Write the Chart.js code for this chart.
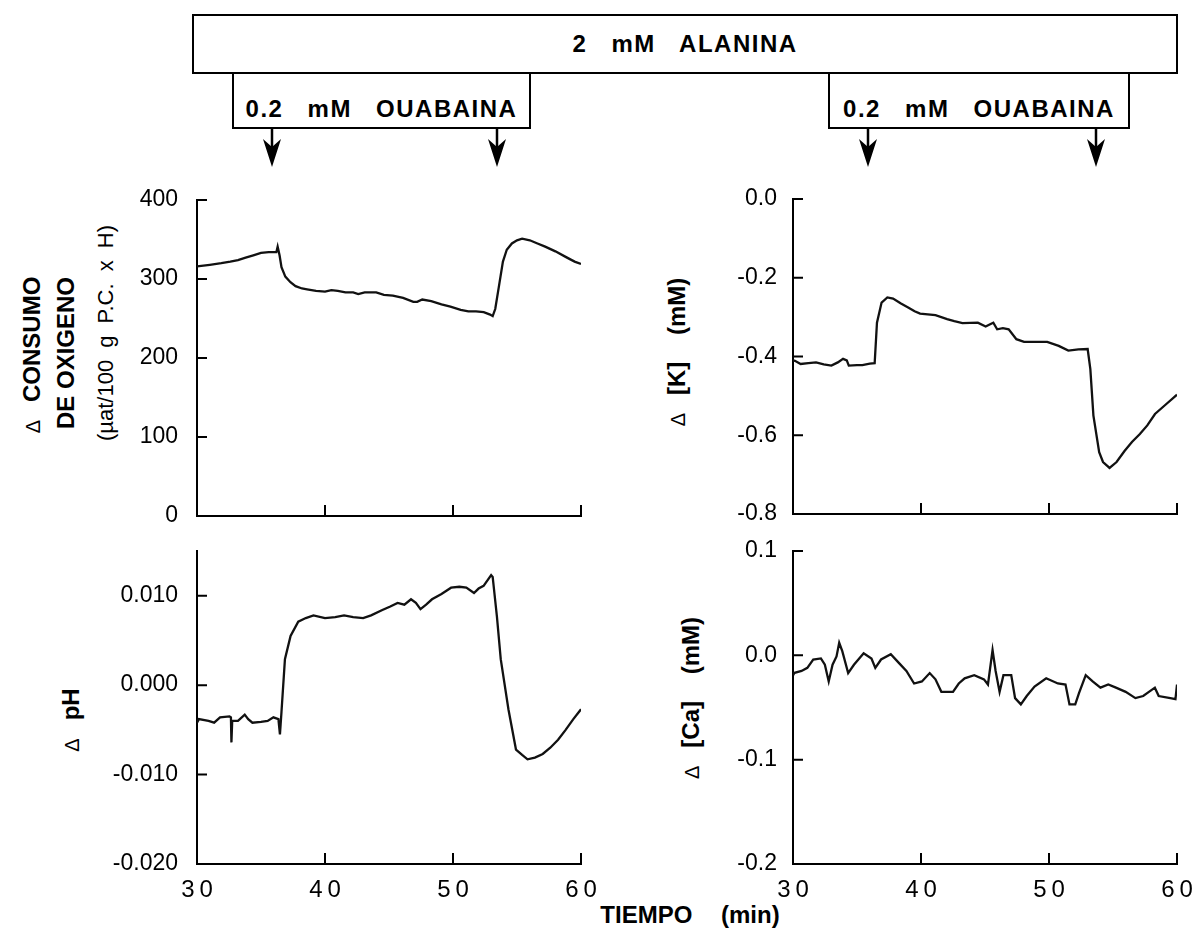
<!DOCTYPE html>
<html>
<head>
<meta charset="utf-8">
<script src="https://cdn.jsdelivr.net/npm/chart.js@4.4.0/dist/chart.umd.min.js"></script>
<style>
  body { margin: 0; background: #fff; width: 1204px; height: 935px; position: relative; overflow: hidden;
         font-family: "Liberation Sans", Arial, sans-serif; color: #000; }
  .panel { position: absolute; }
  .panel canvas { display: block; }
  .box { position: absolute; border: 2px solid #000; box-sizing: border-box; display: flex;
         align-items: center; justify-content: center; font-weight: bold; font-size: 24px;
         letter-spacing: 1.5px; word-spacing: 16px; white-space: pre; }
  .lbl { position: absolute; white-space: pre; font-weight: bold; font-size: 24px;
         transform: translate(-50%, -50%) rotate(-90deg); }
  .lbl.thin { font-weight: normal; font-size: 22px; word-spacing: 6px; }
  .wide { word-spacing: 20px; }
  .d { font-weight: normal; font-size: 20px; margin-right: 18px; }
  #timeTitle { position: absolute; left: 690px; top: 915px; transform: translate(-50%, -50%);
               font-weight: bold; font-size: 24px; word-spacing: 22px; white-space: pre; }
</style>
</head>
<body>

<div class="box" style="left:192px; top:14px; width:986px; height:60px;">2 mM ALANINA</div>
<div class="box" style="left:232px; top:72px; width:299px; height:57px; align-items:flex-end; padding-bottom:4px;">0.2 mM OUABAINA</div>
<div class="box" style="left:828px; top:72px; width:302px; height:57px; align-items:flex-end; padding-bottom:4px;">0.2 mM OUABAINA</div>
<svg id="arrows" width="1204" height="180" style="position:absolute; left:0; top:0;"></svg>

<div class="lbl" style="left:32px; top:355px;"><span class="d">Δ</span>CONSUMO</div>
<div class="lbl" style="left:66px; top:353px;">DE OXIGENO</div>
<div class="lbl thin" style="left:106px; top:333px;">(µat/100 g P.C. x H)</div>
<div class="lbl" style="left:71px; top:720px;"><span class="d">Δ</span>pH</div>
<div class="lbl wide" style="left:677px; top:352px;"><span class="d">Δ</span>[K] (mM)</div>
<div class="lbl wide" style="left:691px; top:698px;"><span class="d">Δ</span>[Ca] (mM)</div>
<div id="timeTitle">TIEMPO (min)</div>

<div class="panel" id="o2Panel"><canvas id="o2Chart"></canvas></div>
<div class="panel" id="phPanel"><canvas id="phChart"></canvas></div>
<div class="panel" id="kPanel"><canvas id="kChart"></canvas></div>
<div class="panel" id="caPanel"><canvas id="caChart"></canvas></div>

<script>
// tick labels
const timeTicks = [30, 40, 50, 60];
const o2Ticks = [0, 100, 200, 300, 400];
const phTicks = [-0.02, -0.01, 0, 0.01];
const kTicks = [-0.8, -0.6, -0.4, -0.2, 0];
const caTicks = [-0.2, -0.1, 0, 0.1];

// oxygen consumption trace (min, µat/100 g P.C. x H)
const o2Time = [30.0, 31.0, 31.9, 32.6, 33.2, 33.8, 34.4, 35.0, 35.6, 36.2,
  36.3, 36.45, 36.6, 36.9, 37.3, 37.7, 38.2, 38.6, 39.3, 40.0,
  40.5, 41.0, 41.6, 42.2, 42.6, 43.1, 44.0, 44.6, 45.3, 46.1,
  46.9, 47.2, 47.6, 48.3, 49.1, 49.8, 50.6, 51.2, 51.8, 52.4,
  52.9, 53.1, 53.3, 53.6, 53.9, 54.2, 54.6, 55.0, 55.4, 56.0,
  56.6, 57.2, 58.0, 58.8, 59.5, 60.0];
const o2Values = [316, 318, 320, 322, 324, 327, 330, 333, 334, 334,
  341, 330, 315, 303, 296, 291, 288, 287, 285, 284,
  286, 285, 283, 283, 281, 283, 283, 280, 279, 276,
  271, 271, 274, 272, 268, 265, 261, 259, 259, 258,
  255, 253, 262, 292, 322, 337, 345, 349, 351, 349,
  345, 341, 335, 328, 322, 319];

// pH trace
const phTime = [30.0, 30.15, 30.9, 31.34, 31.8, 32.54, 32.65, 32.69, 32.75, 33.2,
  33.73, 34.0, 34.33, 35.0, 35.52, 35.97, 36.36, 36.48, 36.6, 36.87,
  37.31, 37.91, 38.5, 39.1, 40.0, 40.8, 41.49, 42.2, 42.98, 43.6,
  44.48, 45.1, 45.67, 46.2, 46.72, 47.1, 47.46, 47.9, 48.36, 49.1,
  49.85, 50.5, 51.04, 51.64, 52.0, 52.39, 52.98, 53.1, 53.43, 53.73,
  54.33, 54.92, 55.4, 55.82, 56.4, 57.01, 57.6, 58.21, 58.8, 59.4,
  60.0];
const phValues = [-0.0042, -0.0038, -0.0040, -0.0042, -0.0036, -0.0035, -0.0036, -0.0064, -0.0040, -0.0040,
  -0.0033, -0.0038, -0.0042, -0.0041, -0.0040, -0.0036, -0.0038, -0.0055, -0.0030, 0.0029,
  0.0055, 0.0071, 0.0075, 0.0078, 0.0075, 0.0076, 0.0078, 0.0076, 0.0075, 0.0078,
  0.0084, 0.0088, 0.0092, 0.0090, 0.0096, 0.0092, 0.0085, 0.0090, 0.0096, 0.0102,
  0.0109, 0.0110, 0.0109, 0.0103, 0.0108, 0.0111, 0.0123, 0.0121, 0.0077, 0.0029,
  -0.0027, -0.0072, -0.0078, -0.0083, -0.0081, -0.0077, -0.0070, -0.0061, -0.0050, -0.0038,
  -0.0027];

// [K] trace (mM)
const kTime = [30.0, 30.15, 30.6, 31.2, 31.8, 32.4, 33.0, 33.5, 33.91, 34.2,
  34.36, 35.0, 35.42, 36.0, 36.38, 36.56, 36.92, 37.37, 37.82, 38.4,
  39.03, 39.5, 39.93, 41.13, 42.04, 42.6, 43.24, 44.44, 45.05, 45.4,
  45.65, 45.95, 46.4, 46.85, 47.45, 48.05, 49.86, 50.76, 51.51, 52.3,
  53.02, 53.23, 53.47, 53.92, 54.22, 54.73, 55.28, 55.9, 56.48, 57.1,
  57.68, 58.28, 59.19, 60.0];
const kValues = [-0.410, -0.411, -0.419, -0.417, -0.415, -0.420, -0.423, -0.415, -0.406, -0.410,
  -0.423, -0.422, -0.422, -0.418, -0.417, -0.314, -0.263, -0.250, -0.253, -0.265,
  -0.276, -0.285, -0.291, -0.295, -0.305, -0.310, -0.315, -0.314, -0.324, -0.318,
  -0.314, -0.331, -0.328, -0.331, -0.356, -0.363, -0.363, -0.373, -0.385, -0.382,
  -0.381, -0.432, -0.550, -0.643, -0.668, -0.683, -0.668, -0.640, -0.617, -0.597,
  -0.575, -0.546, -0.520, -0.497];

// [Ca] trace (mM)
const caTime = [30.0, 30.06, 30.67, 31.12, 31.58, 32.18, 32.49, 32.79, 33.09, 33.4,
  33.61, 33.85, 34.31, 34.76, 35.52, 36.13, 36.43, 36.88, 37.64, 38.25,
  38.86, 39.46, 40.07, 40.68, 41.13, 41.59, 42.5, 42.95, 43.41, 44.16,
  44.92, 45.23, 45.59, 45.83, 46.14, 46.44, 47.05, 47.35, 47.8, 48.26,
  48.87, 49.78, 50.69, 51.29, 51.6, 52.05, 52.35, 52.87, 53.41, 54.02,
  54.63, 55.23, 55.99, 56.75, 57.36, 58.27, 58.57, 59.48, 59.88, 60.0];
const caValues = [-0.018, -0.017, -0.015, -0.012, -0.004, -0.003, -0.009, -0.025, -0.009, -0.001,
  0.012, 0.004, -0.017, -0.009, 0.002, -0.003, -0.012, -0.004, 0.001, -0.007,
  -0.015, -0.027, -0.025, -0.017, -0.023, -0.035, -0.035, -0.027, -0.022, -0.019,
  -0.023, -0.028, 0.005, -0.015, -0.035, -0.019, -0.019, -0.041, -0.047, -0.039,
  -0.030, -0.022, -0.027, -0.028, -0.047, -0.047, -0.036, -0.019, -0.025, -0.031,
  -0.028, -0.031, -0.035, -0.041, -0.039, -0.031, -0.039, -0.041, -0.042, -0.028];

// ouabain addition arrows (page x)
const arrowX = [272, 497, 868, 1096];
const svg = document.getElementById('arrows');
arrowX.forEach(x => {
    svg.innerHTML += `<line x1="${x}" y1="128" x2="${x}" y2="150" stroke="#000" stroke-width="2.5"/>` +
        `<polygon points="${x},167 ${x - 9},139 ${x},147 ${x + 9},139" fill="#000"/>`;
});

const FONT = '"Liberation Sans", Arial, sans-serif';
const MARGIN = 40;   // room round each plot so the tick labels never squeeze it

// ticks point inward, like the original plotter output
const inwardTicks = {
    id: 'inwardTicks',
    afterDraw(chart) {
        const { ctx, chartArea: a, scales: { x, y } } = chart;
        ctx.save();
        ctx.strokeStyle = '#000';
        ctx.lineWidth = 2;
        ctx.beginPath();
        x.ticks.forEach(t => {
            if (t.value === x.min) return;
            const px = x.getPixelForValue(t.value);
            ctx.moveTo(px, a.bottom);
            ctx.lineTo(px, a.bottom - 11);
        });
        y.ticks.forEach(t => {
            if (t.value === y.min) return;
            const py = y.getPixelForValue(t.value);
            ctx.moveTo(a.left, py);
            ctx.lineTo(a.left + 10, py);
        });
        ctx.stroke();
        ctx.restore();
    }
};

function panelConfig(p, yWidth, pad) {
    return {
        type: 'line',
        data: {
            datasets: [{
                data: p.times.map((t, i) => ({ x: t, y: p.values[i] })),
                borderColor: '#111',
                borderWidth: 2.3,
                pointRadius: 0,
                tension: 0,
                fill: false
            }]
        },
        options: {
            responsive: false,
            animation: false,
            devicePixelRatio: 1,
            layout: { autoPadding: false, padding: pad },
            plugins: { legend: { display: false }, tooltip: { enabled: false } },
            scales: {
                x: {
                    type: 'linear',
                    min: 30,
                    max: 60,
                    afterBuildTicks: s => { s.ticks = timeTicks.map(v => ({ value: v })); },
                    grid: { display: false, drawTicks: false },
                    border: { display: true, color: '#000', width: 2 },
                    ticks: {
                        display: p.showTime,
                        padding: 12,
                        color: '#000',
                        autoSkip: false,
                        maxRotation: 0,
                        font: { family: FONT, size: 24 },
                        callback: v => String(v).split('').join('\u2009')
                    }
                },
                y: {
                    min: p.yTicks[0],
                    max: p.yMax,
                    afterBuildTicks: s => { s.ticks = p.yTicks.map(v => ({ value: v })); },
                    afterFit: s => { s.width = yWidth; },
                    grid: { display: false, drawTicks: false },
                    border: { display: true, color: '#000', width: 2 },
                    ticks: {
                        padding: p.yPad,
                        color: '#000',
                        autoSkip: false,
                        font: { family: FONT, size: 23 },
                        callback: v => Number(v).toFixed(p.digits)
                    }
                }
            }
        },
        plugins: [inwardTicks]
    };
}

// p.plot is the frame of the plot on the page: left, top, right, bottom
function createPanel(panelId, canvasId, p) {
    const yWidth = 110;
    const bottomRoom = p.showTime ? 70 : MARGIN;
    const panel = document.getElementById(panelId);
    const canvas = document.getElementById(canvasId);
    panel.style.left = (p.plot.left - yWidth) + 'px';
    panel.style.top = (p.plot.top - MARGIN) + 'px';
    canvas.width = yWidth + (p.plot.right - p.plot.left) + MARGIN;
    canvas.height = MARGIN + (p.plot.bottom - p.plot.top) + bottomRoom;
    const target = { left: yWidth, top: MARGIN,
                     right: canvas.width - MARGIN, bottom: canvas.height - bottomRoom };
    let pad = { top: MARGIN, left: 0, right: MARGIN, bottom: bottomRoom };
    let chart;
    // build, measure the plot area, rebuild with the leftover offset taken out of the padding
    for (let i = 0; i < 3; i++) {
        if (chart) chart.destroy();
        chart = new Chart(canvas, panelConfig(p, yWidth, pad));
        const a = chart.chartArea;
        pad = {
            top: pad.top + (target.top - a.top),
            left: pad.left + (target.left - a.left),
            right: pad.right + (a.right - target.right),
            bottom: pad.bottom + (a.bottom - target.bottom)
        };
    }
    return chart;
}

createPanel('o2Panel', 'o2Chart', { times: o2Time, values: o2Values, yTicks: o2Ticks, yMax: 400, digits: 0,
    showTime: false, yPad: 19, plot: { left: 197, top: 200, right: 581, bottom: 516 } });
createPanel('phPanel', 'phChart', { times: phTime, values: phValues, yTicks: phTicks, yMax: 0.015, digits: 3,
    showTime: true, yPad: 19, plot: { left: 197, top: 551, right: 581, bottom: 864 } });
createPanel('kPanel', 'kChart', { times: kTime, values: kValues, yTicks: kTicks, yMax: 0, digits: 1,
    showTime: false, yPad: 16, plot: { left: 793, top: 199, right: 1177, bottom: 514 } });
createPanel('caPanel', 'caChart', { times: caTime, values: caValues, yTicks: caTicks, yMax: 0.1, digits: 1,
    showTime: true, yPad: 16, plot: { left: 793, top: 551, right: 1177, bottom: 864 } });
</script>
</body>
</html>
